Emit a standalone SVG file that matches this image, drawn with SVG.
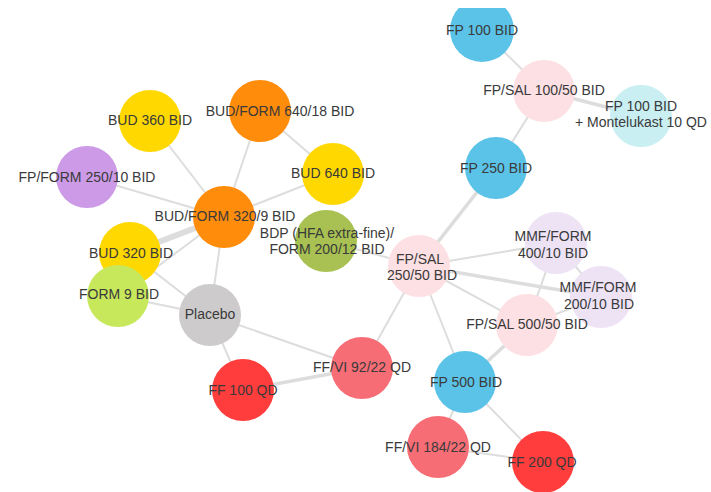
<svg xmlns="http://www.w3.org/2000/svg" width="711" height="492" viewBox="0 0 711 492">
  <style>
    .edge { stroke: #dddddd; stroke-width: 2; stroke-linecap: round; }
    .w2 { stroke-width: 3.5; }
    .w3 { stroke-width: 6; }
    .node circle { stroke: none; }
    .node text { font-family: "Liberation Sans", Arial, sans-serif; font-size: 14px; fill: #3a3a3a; text-anchor: middle; }
    .fp { fill: #5cc3e8; }
    .fpsal { fill: #fde0e4; }
    .mont { fill: #c9eff3; }
    .bud { fill: #ffd800; }
    .budform { fill: #ff8c0a; }
    .fpform { fill: #cc9ae6; }
    .form { fill: #c8e85c; }
    .bdp { fill: #a8c152; }
    .plac { fill: #cdcbcb; }
    .ffvi { fill: #f76d76; }
    .ff { fill: #ff3d3d; }
    .mmf { fill: #ede3f5; }
  </style>

  <rect width="711" height="492" fill="#ffffff"/>

  <!-- connectors -->
  <g id="edges">
    <line class="edge" x1="150" y1="121" x2="224" y2="217"/>
    <line class="edge" x1="260" y1="111" x2="224" y2="217"/>
    <line class="edge" x1="260" y1="111" x2="333" y2="174"/>
    <line class="edge" x1="333" y1="174" x2="224" y2="217"/>
    <line class="edge" x1="87" y1="177" x2="224" y2="217"/>
    <line class="edge w3" x1="130" y1="253" x2="224" y2="217"/>
    <line class="edge" x1="118" y1="296" x2="224" y2="217"/>
    <line class="edge" x1="210" y1="315" x2="224" y2="217"/>
    <line class="edge" x1="130" y1="253" x2="210" y2="315"/>
    <line class="edge" x1="118" y1="296" x2="210" y2="315"/>
    <line class="edge" x1="210" y1="315" x2="243" y2="390"/>
    <line class="edge" x1="210" y1="315" x2="362" y2="368"/>
    <line class="edge w2" x1="243" y1="390" x2="362" y2="368"/>
    <line class="edge" x1="362" y1="368" x2="419" y2="266"/>
    <line class="edge" x1="326" y1="241" x2="419" y2="266"/>
    <line class="edge w2" x1="419" y1="266" x2="496" y2="168"/>
    <line class="edge" x1="496" y1="168" x2="544" y2="91"/>
    <line class="edge" x1="482" y1="30" x2="544" y2="91"/>
    <line class="edge w2" x1="544" y1="91" x2="641" y2="116"/>
    <line class="edge" x1="419" y1="266" x2="556" y2="243"/>
    <line class="edge w2" x1="419" y1="266" x2="601" y2="297"/>
    <line class="edge" x1="419" y1="266" x2="527" y2="325"/>
    <line class="edge" x1="419" y1="266" x2="465" y2="382"/>
    <line class="edge" x1="556" y1="243" x2="527" y2="325"/>
    <line class="edge" x1="556" y1="243" x2="601" y2="297"/>
    <line class="edge" x1="527" y1="325" x2="601" y2="297"/>
    <line class="edge w2" x1="527" y1="325" x2="465" y2="382"/>
    <line class="edge" x1="465" y1="382" x2="438" y2="447"/>
    <line class="edge" x1="465" y1="382" x2="543" y2="462"/>
    <line class="edge" x1="438" y1="447" x2="543" y2="462"/>
  </g>

  <!-- nodes -->
  <g id="fp100" class="node">
    <circle class="fp" cx="482" cy="30" r="32"/>
    <rect x="440" y="0" width="90" height="8" fill="#ffffff"/>
    <text x="482" y="35">FP 100 BID</text>
  </g>
  <g id="fpsal100" class="node">
    <circle class="fpsal" cx="544" cy="91" r="31"/>
    <text x="544" y="95">FP/SAL 100/50 BID</text>
  </g>
  <g id="fp100mont" class="node">
    <circle class="mont" cx="641" cy="116" r="31"/>
    <text x="641" y="111">FP 100 BID</text>
    <text x="641" y="127">+ Montelukast 10 QD</text>
  </g>
  <g id="fp250" class="node">
    <circle class="fp" cx="496" cy="168" r="31"/>
    <text x="496" y="173">FP 250 BID</text>
  </g>
  <g id="bud360" class="node">
    <circle class="bud" cx="150" cy="121" r="31"/>
    <text x="150" y="125">BUD 360 BID</text>
  </g>
  <g id="budform640" class="node">
    <circle class="budform" cx="260" cy="111" r="31"/>
    <text x="280" y="116">BUD/FORM 640/18 BID</text>
  </g>
  <g id="bud640" class="node">
    <circle class="bud" cx="333" cy="174" r="31"/>
    <text x="333" y="178">BUD 640 BID</text>
  </g>
  <g id="fpform250" class="node">
    <circle class="fpform" cx="87" cy="177" r="31"/>
    <text x="87" y="182">FP/FORM 250/10 BID</text>
  </g>
  <g id="budform320" class="node">
    <circle class="budform" cx="224" cy="217" r="31"/>
    <text x="225" y="221">BUD/FORM 320/9 BID</text>
  </g>
  <g id="bud320" class="node">
    <circle class="bud" cx="130" cy="253" r="31"/>
    <text x="131" y="258">BUD 320 BID</text>
  </g>
  <g id="form9" class="node">
    <circle class="form" cx="118" cy="296" r="31"/>
    <text x="119" y="299">FORM 9 BID</text>
  </g>
  <g id="placebo" class="node">
    <circle class="plac" cx="210" cy="315" r="31"/>
    <text x="210" y="319">Placebo</text>
  </g>
  <g id="bdpform" class="node">
    <circle class="bdp" cx="326" cy="241" r="31"/>
    <text x="327" y="238">BDP (HFA extra-fine)/</text>
    <text x="327" y="254">FORM 200/12 BID</text>
  </g>
  <g id="fpsal250" class="node">
    <circle class="fpsal" cx="419" cy="266" r="31"/>
    <text x="420" y="264">FP/SAL</text>
    <text x="422" y="280">250/50 BID</text>
  </g>
  <g id="mmf400" class="node">
    <circle class="mmf" cx="556" cy="243" r="31"/>
    <text x="553" y="241">MMF/FORM</text>
    <text x="553" y="258">400/10 BID</text>
  </g>
  <g id="mmf200" class="node">
    <circle class="mmf" cx="601" cy="297" r="31"/>
    <text x="598" y="292">MMF/FORM</text>
    <text x="599" y="309">200/10 BID</text>
  </g>
  <g id="fpsal500" class="node">
    <circle class="fpsal" cx="527" cy="325" r="31"/>
    <text x="527" y="329">FP/SAL 500/50 BID</text>
  </g>
  <g id="fp500" class="node">
    <circle class="fp" cx="465" cy="382" r="31"/>
    <text x="466" y="387">FP 500 BID</text>
  </g>
  <g id="ffvi184" class="node">
    <circle class="ffvi" cx="438" cy="447" r="31"/>
    <text x="438" y="452">FF/VI 184/22 QD</text>
  </g>
  <g id="ff200" class="node">
    <circle class="ff" cx="543" cy="462" r="31"/>
    <text x="542" y="467">FF 200 QD</text>
  </g>
  <g id="ffvi92" class="node">
    <circle class="ffvi" cx="362" cy="368" r="31"/>
    <text x="362" y="372">FF/VI 92/22 QD</text>
  </g>
  <g id="ff100" class="node">
    <circle class="ff" cx="243" cy="390" r="31"/>
    <text x="243" y="395">FF 100 QD</text>
  </g>
</svg>
